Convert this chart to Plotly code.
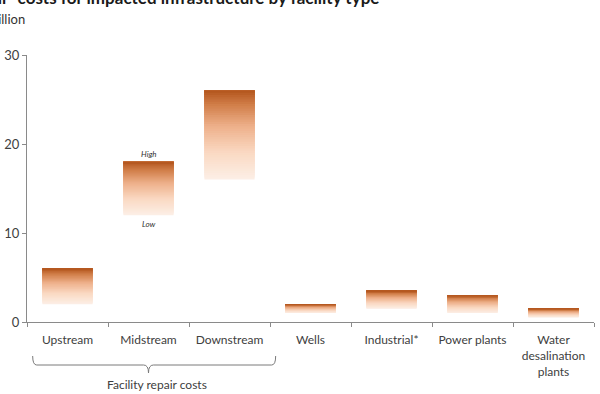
import plotly.graph_objects as go
from plotly.colors import sample_colorscale

categories = ["Upstream", "Midstream", "Downstream", "Wells", "Industrial*",
              "Power plants", "Water<br>desalination<br>plants"]
low_values = [2, 12, 16, 1, 1.5, 1, 0.5]
high_values = [6, 18, 26, 2, 3.5, 3, 1.5]
y_ticks = [0, 10, 20, 30]

title_text = "Repair<sup>*</sup> costs for impacted infrastructure by facility type"
unit_text = "$ billion"
group_text = "Facility repair costs"

FONT = "Lato, 'Open Sans', sans-serif"
TXT = "#404040"
AX = "#8a8a8a"

grad = [[0.0, "#fcefe6"], [0.3, "#fad9c3"], [0.6, "#eeb08a"],
        [0.85, "#cf7c47"], [1.0, "#b3551d"]]

N = 40
fig = go.Figure()
for k in range(N):
    frac = k / N
    bases = [lo + frac * (hi - lo) for lo, hi in zip(low_values, high_values)]
    heights = [hi - b for hi, b in zip(high_values, bases)]
    col = sample_colorscale(grad, [(k + 0.5) / N])[0]
    fig.add_trace(go.Bar(x=categories, y=heights, base=bases, width=0.62,
                         marker=dict(color=col, line=dict(width=0)),
                         hoverinfo="skip", showlegend=False))

fig.update_layout(
    barmode="overlay",
    width=600, height=394,
    margin=dict(l=27, r=6, t=55, b=72),
    paper_bgcolor="white", plot_bgcolor="white",
    font=dict(family=FONT, size=12, color=TXT),
    xaxis=dict(showline=True, linecolor=AX, linewidth=1, ticks="outside",
               tickson="boundaries", ticklen=4, tickcolor=AX, automargin=False,
               ticklabelstandoff=7,
               showgrid=False, tickfont=dict(size=12, color=TXT)),
    yaxis=dict(range=[0, 30], tickvals=y_ticks, showline=True, linecolor=AX,
               linewidth=1, ticks="outside", ticklen=4, tickcolor=AX, automargin=False,
               showgrid=False, zeroline=False, tickfont=dict(size=13, color=TXT)),
)

# High / Low labels on the Midstream bar
mid = categories[1]
fig.add_annotation(x=mid, y=high_values[1], text="<i>High</i>", showarrow=False,
                   yanchor="bottom", yshift=1, font=dict(size=8, color="#333"))
fig.add_annotation(x=mid, y=low_values[1], text="<i>Low</i>", showarrow=False,
                   yanchor="top", yshift=-2, font=dict(size=8, color="#333"))

# Title (cropped on the left/top like the reference)
fig.add_annotation(xref="paper", yref="paper", x=(381 - 27) / 567, y=(322 - 10) / 267,
                   xanchor="right", yanchor="bottom", showarrow=False,
                   text="<b>" + title_text + "</b>", font=dict(size=17, color="#1a1a1a"))
fig.add_annotation(xref="paper", yref="paper", x=0, y=(322 - 19) / 267,
                   xanchor="right", yanchor="middle", showarrow=False,
                   text=unit_text, font=dict(size=13, color="#333"))

# Bracket under the first three categories
y0, y1, y2 = -34 / 267, -43 / 267, -51 / 267
path = (f"M -0.43,{y0} Q -0.43,{y1} -0.38,{y1} L 0.94,{y1} Q 1,{y1} 1,{y2} "
        f"Q 1,{y1} 1.06,{y1} L 2.52,{y1} Q 2.57,{y1} 2.57,{y0}")
fig.add_shape(type="path", xref="x", yref="paper", path=path,
              line=dict(color="#7a7a7a", width=1))
fig.add_annotation(xref="x", yref="paper", x=1.1, y=-62 / 267, showarrow=False,
                   text=group_text, font=dict(size=12, color=TXT), yanchor="middle")

fig.write_html("out.html", config={"displayModeBar": False},
               post_script="document.body.style.margin='0px';")
